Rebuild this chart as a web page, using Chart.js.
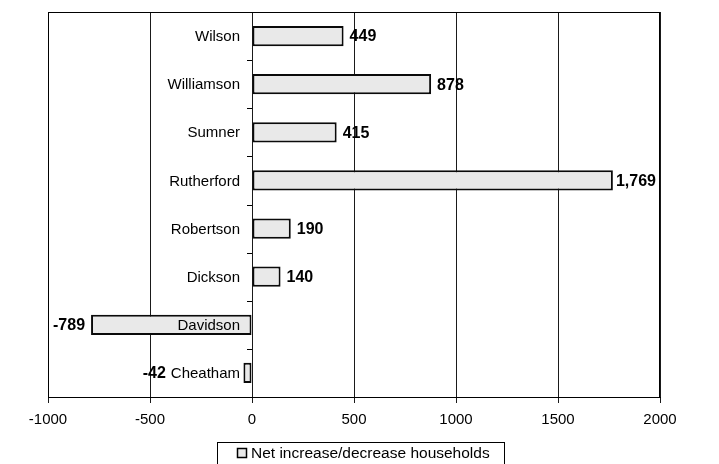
<!DOCTYPE html>
<html>
<head>
<meta charset="utf-8">
<script src="https://cdn.jsdelivr.net/npm/chart.js@4/dist/chart.umd.min.js"></script>
<style>
  html, body { margin: 0; padding: 0; background: #fff; }
  #wrap { width: 719px; height: 464px; }
</style>
</head>
<body>
<div id="wrap"><canvas id="chart" width="719" height="464"></canvas></div>
<script>
// Net change in households by county
const counties = ['Wilson', 'Williamson', 'Sumner', 'Rutherford', 'Robertson', 'Dickson', 'Davidson', 'Cheatham'];
const netHouseholds = [449, 878, 415, 1769, 190, 140, -789, -42];
const seriesLabel = 'Net increase/decrease households';
const xTicks = [-1000, -500, 0, 500, 1000, 1500, 2000];

const FONT = '"Liberation Sans", Arial, Helvetica, sans-serif';
const BAR_FILL = '#e9e9e9';
const INK = '#000000';

// Frame, category ticks on the zero line, county names, value labels and legend
const annotate = {
  id: 'annotate',
  afterDatasetsDraw(chart) {
    const { ctx, chartArea: a, scales } = chart;
    const xs = scales.x;
    const x0 = xs.getPixelForValue(0);
    const meta = chart.getDatasetMeta(0);
    ctx.save();

    // plot frame
    ctx.strokeStyle = INK;
    ctx.lineWidth = 1;
    ctx.strokeRect(Math.round(a.left) + 0.5, Math.round(a.top) + 0.5,
                   Math.round(a.right - a.left) - 1, Math.round(a.bottom - a.top));

    // category boundary ticks on the zero axis
    const step = (a.bottom - a.top) / counties.length;
    ctx.beginPath();
    for (let i = 1; i < counties.length; i++) {
      const y = Math.round(a.top + i * step) + 0.5;
      ctx.moveTo(x0 - 5, y);
      ctx.lineTo(x0, y);
    }
    ctx.stroke();

    // county names, right-aligned beside the zero line
    ctx.textBaseline = 'middle';
    ctx.fillStyle = INK;
    const nameRight = x0 - 12;
    const nameLeft = [];
    ctx.font = '15px ' + FONT;
    ctx.textAlign = 'right';
    counties.forEach((c, i) => {
      const y = meta.data[i].y;
      ctx.fillText(c, nameRight, y + 1);
      nameLeft[i] = nameRight - ctx.measureText(c).width;
    });

    // value labels at the bar ends, kept inside the plot frame
    ctx.font = 'bold 16px ' + FONT;
    netHouseholds.forEach((v, i) => {
      const bar = meta.data[i];
      const txt = v.toLocaleString('en-US');
      const w = ctx.measureText(txt).width;
      const y = bar.y + 1;
      if (v >= 0) {
        ctx.textAlign = 'left';
        let xl = bar.x + 6;
        if (xl + w > a.right - 4) xl = Math.max(bar.x + 1, a.right - 4 - w);
        ctx.fillText(txt, xl, y);
      } else {
        ctx.textAlign = 'right';
        let xr = bar.x - 6;
        if (xr > nameLeft[i] - 4) xr = nameLeft[i] - 5;
        ctx.fillText(txt, xr, y);
      }
    });

    // legend
    const lx = 217, ly = 442, lw = 287, lh = 30;
    ctx.strokeStyle = INK;
    ctx.lineWidth = 1;
    ctx.strokeRect(lx + 0.5, ly + 0.5, lw, lh);
    ctx.fillStyle = BAR_FILL;
    ctx.fillRect(237.5, 448.5, 9, 9);
    ctx.lineWidth = 1.5;
    ctx.strokeRect(237.5, 448.5, 9, 9);
    ctx.fillStyle = INK;
    ctx.font = '15.5px ' + FONT;
    ctx.textAlign = 'left';
    ctx.textBaseline = 'middle';
    ctx.fillText(seriesLabel, 251, 454);

    ctx.restore();
  }
};

new Chart(document.getElementById('chart'), {
  type: 'bar',
  data: {
    labels: counties,
    datasets: [{
      label: seriesLabel,
      data: netHouseholds,
      backgroundColor: BAR_FILL,
      borderColor: '#0a0a0a',
      borderWidth: 2,
      borderSkipped: false,
      categoryPercentage: 1,
      barPercentage: 0.42
    }]
  },
  options: {
    indexAxis: 'y',
    responsive: false,
    animation: false,
    devicePixelRatio: 1,
    layout: { padding: { left: 48, right: 59, top: 12, bottom: 0 } },
    plugins: { legend: { display: false }, tooltip: { enabled: false } },
    scales: {
      x: {
        type: 'linear',
        min: xTicks[0],
        max: xTicks[xTicks.length - 1],
        afterBuildTicks(scale) { scale.ticks = xTicks.map(v => ({ value: v })); },
        afterFit(scale) { scale.height = 67; },
        grid: { color: '#1a1a1a', lineWidth: 1, tickLength: 6, drawTicks: true },
        border: { display: true, color: INK, width: 1 },
        ticks: {
          color: INK,
          padding: 8,
          font: { family: FONT, size: 15 },
          callback: v => String(v)
        }
      },
      y: {
        display: false,
        type: 'category'
      }
    }
  },
  plugins: [annotate]
});
</script>
</body>
</html>
